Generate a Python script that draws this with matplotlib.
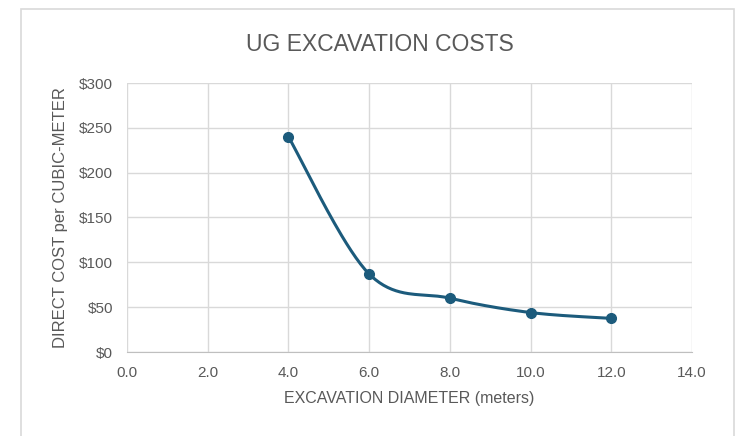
import numpy as np
import matplotlib
matplotlib.use('Agg')
from matplotlib import pyplot as plt
from matplotlib.patches import Rectangle
from matplotlib.ticker import FuncFormatter

diameter = [4.0, 6.0, 8.0, 10.0, 12.0]
cost = [240, 87, 60, 44, 37.5]
x_ticks = [0, 2, 4, 6, 8, 10, 12, 14]
y_ticks = [0, 50, 100, 150, 200, 250, 300]

plt.rcParams['font.family'] = ['Liberation Sans', 'DejaVu Sans']

line_col = '#1c5b7c'
text_col = '#595959'
grid_col = '#d9d9d9'


def smooth(x, y, n=40):
    # catmull-rom style bezier, like the excel smoothed line
    x = np.asarray(x, float)
    y = np.asarray(y, float)
    px = np.concatenate([[x[0]], x, [x[-1]]])
    py = np.concatenate([[y[0]], y, [y[-1]]])
    xs, ys = [], []
    t = np.linspace(0, 1, n)
    for i in range(1, len(px) - 2):
        p0 = np.array([px[i], py[i]])
        p3 = np.array([px[i + 1], py[i + 1]])
        p1 = p0 + (np.array([px[i + 1], py[i + 1]]) - np.array([px[i - 1], py[i - 1]])) / 6
        p2 = p3 - (np.array([px[i + 2], py[i + 2]]) - np.array([px[i], py[i]])) / 6
        b = ((1 - t) ** 3)[:, None] * p0 + (3 * (1 - t) ** 2 * t)[:, None] * p1 \
            + (3 * (1 - t) * t ** 2)[:, None] * p2 + (t ** 3)[:, None] * p3
        xs.extend(b[:, 0])
        ys.extend(b[:, 1])
    return xs, ys


fig = plt.figure(figsize=(7.39, 4.36), dpi=100)
# chart frame, runs off the bottom of the picture
fig.patches.append(Rectangle((21 / 739, -10 / 436), 713 / 739, 437 / 436, transform=fig.transFigure,
                             fill=False, edgecolor='#d9d9d9', linewidth=1.2))
ax = fig.add_axes([127 / 739, 1 - 352 / 436, 565 / 739, 269 / 436])

sx, sy = smooth(diameter, cost)
ax.plot(sx, sy, color=line_col, linewidth=2.2, zorder=3)
ax.plot(diameter, cost, 'o', color=line_col, markersize=7, zorder=4)

ax.set_xlim(0, 14)
ax.set_ylim(0, 300)
ax.set_xticks(x_ticks)
ax.set_yticks(y_ticks)
ax.xaxis.set_major_formatter(FuncFormatter(lambda v, p: '%.1f' % v))
ax.yaxis.set_major_formatter(FuncFormatter(lambda v, p: '$%d' % v))
ax.grid(True, color=grid_col, linewidth=1)
ax.set_axisbelow(True)
for s in ax.spines.values():
    s.set_visible(False)
ax.spines['bottom'].set_visible(True)
ax.spines['bottom'].set_color('#bfbfbf')
ax.tick_params(length=0, labelsize=11, labelcolor=text_col, pad=10)

ax.set_xlabel('EXCAVATION DIAMETER (meters)', fontsize=11.5, color=text_col, labelpad=8)
ax.set_ylabel('DIRECT COST per CUBIC-METER', fontsize=12, color=text_col, labelpad=8)
fig.text(380 / 739, 1 - 44 / 436, 'UG EXCAVATION COSTS', ha='center', va='center',
         fontsize=16.5, color=text_col)

fig.savefig('out.png', dpi=100)
